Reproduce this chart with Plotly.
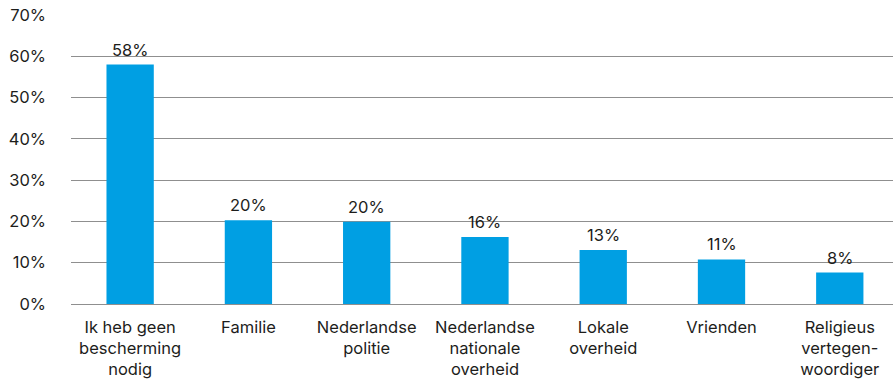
import plotly.graph_objects as go

# Survey answers: who offers protection (share of respondents, %)
categories = [
    "Ik heb geen<br>bescherming<br>nodig",
    "Familie",
    "Nederlandse<br>politie",
    "Nederlandse<br>nationale<br>overheid",
    "Lokale<br>overheid",
    "Vrienden",
    "Religieus<br>vertegen-<br>woordiger",
]
values = [58.0, 20.3, 19.9, 16.2, 13.1, 10.8, 7.6]
y_ticks = [0, 10, 20, 30, 40, 50, 60, 70]
y_tick_labels = [f"{t}%" for t in y_ticks]

FONT = "Inter, Lato, sans-serif"
SIZE = 16.5
TEXT = "#1d1d1b"
BLUE = "#009FE3"
GRID = "#8f8f8f"

x_pos = list(range(len(categories)))

fig = go.Figure(
    go.Bar(
        x=x_pos,
        y=values,
        marker=dict(color=BLUE, line=dict(width=0)),
        hoverinfo="skip",
    )
)

# value labels above each bar
for x, v in zip(x_pos, values):
    fig.add_annotation(
        x=x, y=v, text=f"{v:.0f}%",
        showarrow=False, yanchor="bottom", yshift=3,
        font=dict(family=FONT, size=SIZE, color=TEXT),
    )

fig.update_layout(
    width=893,
    height=380,
    margin=dict(l=71, r=0, t=15, b=76),
    paper_bgcolor="white",
    plot_bgcolor="white",
    bargap=0.6,
    showlegend=False,
    font=dict(family=FONT, size=SIZE, color=TEXT),
)

fig.update_xaxes(
    range=[-0.5, 6.45],
    tickvals=x_pos,
    ticktext=categories,
    tickangle=0,
    showgrid=False,
    zeroline=False,
    showline=False,
    ticks="",
    ticklabelstandoff=11,
    tickfont=dict(family=FONT, size=SIZE, color=TEXT),
)

fig.update_yaxes(
    range=[0, 70],
    tickvals=y_ticks,
    ticktext=y_tick_labels,
    showgrid=True,
    gridcolor=GRID,
    gridwidth=1,
    zeroline=True,
    zerolinecolor=GRID,
    zerolinewidth=1,
    showline=False,
    ticks="",
    ticklabelstandoff=24,
    tickfont=dict(family=FONT, size=SIZE, color=TEXT),
)

fig.write_html("out.html")
